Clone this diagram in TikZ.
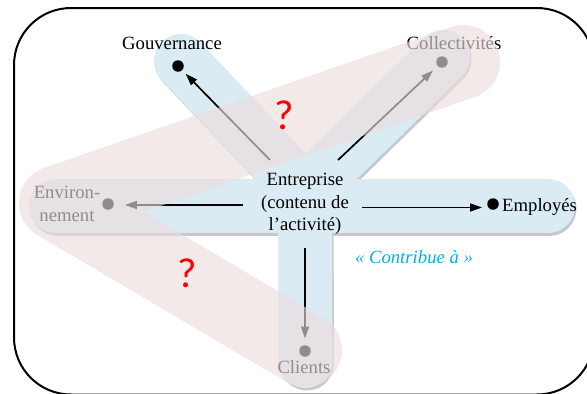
\documentclass[tikz,border=0pt]{standalone}
\usepackage{fontspec}
\setmainfont{Liberation Serif}
\newfontfamily\qfont{Carlito}
\usetikzlibrary{arrows.meta}
\definecolor{bandblue}{RGB}{218,235,243}
\definecolor{bandpink}{RGB}{236,220,220}
\definecolor{shadowgray}{RGB}{200,200,202}
\definecolor{qred}{RGB}{255,0,0}
\definecolor{cblue}{RGB}{0,176,240}
\begin{document}
\begin{tikzpicture}[x=1pt,y=-1pt,
  lbl/.style={font=\fontsize{18.7}{22.5}\selectfont, inner sep=0pt, align=center},
  dotnode/.style={circle, fill=black, minimum size=11.5pt, inner sep=0pt},
  arr/.style={line width=1.7pt, -{Triangle[length=12pt,width=8pt]}},
  band/.style={line width=54pt, line cap=round, draw=bandblue},
  shadowband/.style={line width=54pt, line cap=round, draw=shadowgray},
  pinkband/.style={line width=74pt, line cap=round, line join=round, draw=bandpink, draw opacity=0.63},
  qmark/.style={font=\qfont\fontsize{42}{42}\selectfont, text=qred, inner sep=0pt},
  frame/.style={line width=2pt, rounded corners=57pt}
]
\useasboundingbox (0,0) rectangle (587,394);
\clip (0,0) rectangle (587,394);
% band geometry
\coordinate (O) at (305,192);
\coordinate (bG) at (181,61);
\coordinate (bK) at (443,57);
\coordinate (bL) at (56,206);
\coordinate (bR) at (548,206);
\coordinate (bC) at (305.5,361);
% shadows of the blue star
\begin{scope}[transform canvas={shift={(1.5pt,-2.5pt)}}]
  \draw[shadowband] (O) -- (bG);
  \draw[shadowband] (O) -- (bK);
  \draw[shadowband] (bL) -- (bR);
  \draw[shadowband] (O) -- (bC);
\end{scope}
% blue star
\draw[band] (O) -- (bG);
\draw[band] (O) -- (bK);
\draw[band] (bL) -- (bR);
\draw[band] (O) -- (bC);
% texts
\node[lbl] (ent) at (305,204) {Entreprise\\(contenu de\\l’activité)};
\node[lbl] (gov) at (172,43) {Gouvernance};
\node[lbl] (col) at (454,43) {Collectivités};
\node[lbl] (env) at (67,204) {Environ-\\nement};
\node[lbl, anchor=west] (emp) at (502,207) {Employés};
\node[lbl] (cli) at (304,367) {Clients};
\node[lbl, font=\fontsize{18.7}{22}\selectfont\itshape, text=cblue] (con) at (414,257) {« Contribue à »};
% dots
\node[dotnode] (dG) at (178,66) {};
\node[dotnode] (dK) at (442,62) {};
\node[dotnode] (dE) at (108,204) {};
\node[dotnode] (dM) at (493,204) {};
\node[dotnode] (dC) at (305,351) {};
% arrow starts
\coordinate (sG) at (270,160);
\coordinate (sK) at (338,160);
\coordinate (sE) at (243,205);
\coordinate (sM) at (362,207.5);
\coordinate (sC) at (305,248);
% arrows
\draw[arr, shorten >=5pt] (sG) -- (dG);
\draw[arr, shorten >=6.5pt] (sK) -- (dK);
\draw[arr, shorten >=11pt] (sE) -- (sE -| dE.east);
\draw[arr, shorten >=5pt] (sM) -- (sM -| dM.west);
\draw[arr, shorten >=6.5pt] (sC) -- (dC);
% pink chevron overlay
\coordinate (pB) at (463,62);
\coordinate (pA) at (56,203);
\coordinate (pC) at (305,350);
\draw[pinkband] (pB) -- (pA) -- (pC);
% question marks
\node[qmark] (q1) at (284,115) {?};
\node[qmark] (q2) at (187,273) {?};
% frame
\draw[frame] (14,8) rectangle (594,394.5);
\end{tikzpicture}
\end{document}
